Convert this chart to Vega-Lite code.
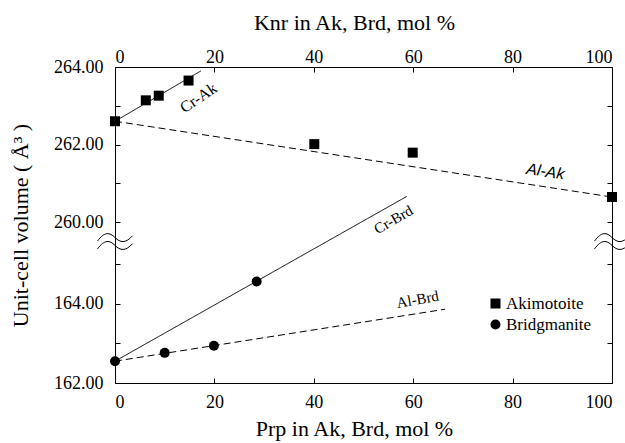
{
  "$schema": "https://vega.github.io/schema/vega-lite/v6.json",
  "width": 497,
  "height": 316,
  "autosize": {"type": "none"},
  "padding": {"left": 115, "top": 67, "right": 13, "bottom": 60},
  "background": "white",
  "config": {
    "view": {"stroke": null},
    "font": "Liberation Serif",
    "axis": {
      "grid": false,
      "domainColor": "black",
      "domainWidth": 1,
      "tickColor": "black",
      "tickWidth": 1,
      "tickSize": -5,
      "labelFont": "Liberation Serif",
      "labelFontSize": 18,
      "labelColor": "black",
      "titleFont": "Liberation Serif",
      "titleFontSize": 22,
      "titleFontWeight": "normal",
      "titleColor": "black"
    }
  },
  "datasets": {
    "points": [
      {"mineral": "Akimotoite", "x": 0, "v": 262.6},
      {"mineral": "Akimotoite", "x": 6.2, "v": 263.14},
      {"mineral": "Akimotoite", "x": 8.8, "v": 263.26},
      {"mineral": "Akimotoite", "x": 14.8, "v": 263.65},
      {"mineral": "Akimotoite", "x": 40.1, "v": 262.01},
      {"mineral": "Akimotoite", "x": 59.9, "v": 261.79},
      {"mineral": "Akimotoite", "x": 100, "v": 260.645},
      {"mineral": "Bridgmanite", "x": 0, "v": 162.55},
      {"mineral": "Bridgmanite", "x": 10, "v": 162.76},
      {"mineral": "Bridgmanite", "x": 19.9, "v": 162.94},
      {"mineral": "Bridgmanite", "x": 28.5, "v": 164.56}
    ],
    "lines": [
      {"line": "Cr-Ak", "sub": "Cr", "x": 0, "v": 262.6},
      {"line": "Cr-Ak", "sub": "Cr", "x": 17.3, "v": 263.9},
      {"line": "Al-Ak", "sub": "Al", "x": 0, "v": 262.6},
      {"line": "Al-Ak", "sub": "Al", "x": 100, "v": 260.645},
      {"line": "Cr-Brd", "sub": "Cr", "x": 0, "v": 162.55},
      {"line": "Cr-Brd", "sub": "Cr", "x": 58.7, "v": 260.66},
      {"line": "Al-Brd", "sub": "Al", "x": 0, "v": 162.55},
      {"line": "Al-Brd", "sub": "Al", "x": 66.4, "v": 163.86}
    ],
    "breaks": [
      {"x": 0, "v": 215},
      {"x": 100, "v": 215}
    ]
  },
  "layer": [
    {
      "data": {"name": "lines"},
      "mark": {"type": "line", "color": "black", "strokeWidth": 1},
      "encoding": {
        "x": {"field": "x", "type": "quantitative",
              "scale": {"domain": [0, 100], "nice": false, "zero": false},
              "axis": {"orient": "top", "title": "Knr in Ak, Brd, mol %", "values": [0, 20, 40, 60, 80, 100], "labelFont": "Liberation Serif", "labelPadding": 6, "titlePadding": 14, "titleX": 239}},
        "y": {"field": "v", "type": "quantitative",
              "scale": {"domain": [162, 165, 260, 264], "range": [316, 197, 155, 0], "nice": false, "zero": false},
              "axis": {"orient": "right", "title": null, "labels": false, "values": [162, 163, 164, 165, 260, 261, 262, 263, 264]}},
        "detail": {"field": "line"},
        "strokeDash": {"field": "sub", "type": "nominal",
                       "scale": {"domain": ["Cr", "Al"], "range": [[1, 0], [7, 4]]}, "legend": null}
      }
    },
    {
      "data": {"name": "points"},
      "mark": {"type": "point", "filled": true, "opacity": 1, "color": "black", "size": 100},
      "encoding": {
        "x": {"field": "x", "type": "quantitative",
              "scale": {"domain": [0, 100], "nice": false, "zero": false},
              "axis": {"orient": "bottom", "title": "Prp in Ak, Brd, mol %", "values": [0, 20, 40, 60, 80, 100], "labelFont": "Liberation Serif", "labelPadding": 15, "titlePadding": 7, "titleX": 239}},
        "y": {"field": "v", "type": "quantitative",
              "scale": {"domain": [162, 165, 260, 264], "range": [316, 197, 155, 0], "nice": false, "zero": false},
              "axis": {"orient": "left", "title": "Unit-cell volume ( Å³ )", "values": [162, 163, 164, 165, 260, 261, 262, 263, 264],
                       "labelFont": "Liberation Serif",
                       "labelExpr": "datum.value % 2 === 0 ? format(datum.value, '.2f') : ''", "labelPadding": 17, "titlePadding": 21}},
        "shape": {"field": "mineral", "type": "nominal",
                  "scale": {"domain": ["Akimotoite", "Bridgmanite"], "range": ["square", "circle"]},
                  "legend": {"title": null, "orient": "none", "legendX": 372, "legendY": 228,
                             "labelFont": "Liberation Serif", "labelFontSize": 17, "labelColor": "black",
                             "symbolSize": 100, "symbolFillColor": "black", "symbolStrokeColor": "black",
                             "labelOffset": 2, "rowPadding": 3}}
      }
    },
    {
      "data": {"values": [{"label": "Cr-Ak", "x": 16.8, "v": 263.2}]},
      "mark": {"type": "text", "angle": -34, "font": "Liberation Serif", "fontSize": 16, "color": "black"},
      "encoding": {
        "x": {"field": "x", "type": "quantitative", "axis": null},
        "y": {"field": "v", "type": "quantitative", "axis": null},
        "text": {"field": "label"}
      }
    },
    {
      "data": {"values": [{"label": "Al-Ak", "x": 86.6, "v": 261.3}]},
      "mark": {"type": "text", "angle": 8.7, "font": "Liberation Sans", "fontStyle": "italic", "fontSize": 16, "color": "black"},
      "encoding": {
        "x": {"field": "x", "type": "quantitative", "axis": null},
        "y": {"field": "v", "type": "quantitative", "axis": null},
        "text": {"field": "label"}
      }
    },
    {
      "data": {"values": [{"label": "Cr-Brd", "x": 56, "v": 260.06}]},
      "mark": {"type": "text", "angle": -29.5, "font": "Liberation Serif", "fontSize": 15, "color": "black"},
      "encoding": {
        "x": {"field": "x", "type": "quantitative", "axis": null},
        "y": {"field": "v", "type": "quantitative", "axis": null},
        "text": {"field": "label"}
      }
    },
    {
      "data": {"values": [{"label": "Al-Brd", "x": 60.9, "v": 164.11}]},
      "mark": {"type": "text", "angle": -10, "font": "Liberation Serif", "fontSize": 15, "color": "black"},
      "encoding": {
        "x": {"field": "x", "type": "quantitative", "axis": null},
        "y": {"field": "v", "type": "quantitative", "axis": null},
        "text": {"field": "label"}
      }
    },
    {
      "data": {"name": "breaks"},
      "mark": {"type": "point", "filled": false, "opacity": 1, "color": "black", "strokeWidth": 1, "size": 1225,
               "shape": "M -1 -0.05 C -0.6 -0.6 -0.3 -0.55 0 -0.25 C 0.3 0.05 0.6 0.1 1 -0.35 M -1 0.4 C -0.6 -0.15 -0.3 -0.1 0 0.2 C 0.3 0.5 0.6 0.55 1 0.1"},
      "encoding": {
        "x": {"field": "x", "type": "quantitative", "axis": null},
        "y": {"field": "v", "type": "quantitative", "axis": null}
      }
    }
  ],
  "resolve": {"axis": {"x": "independent", "y": "independent"}}
}
